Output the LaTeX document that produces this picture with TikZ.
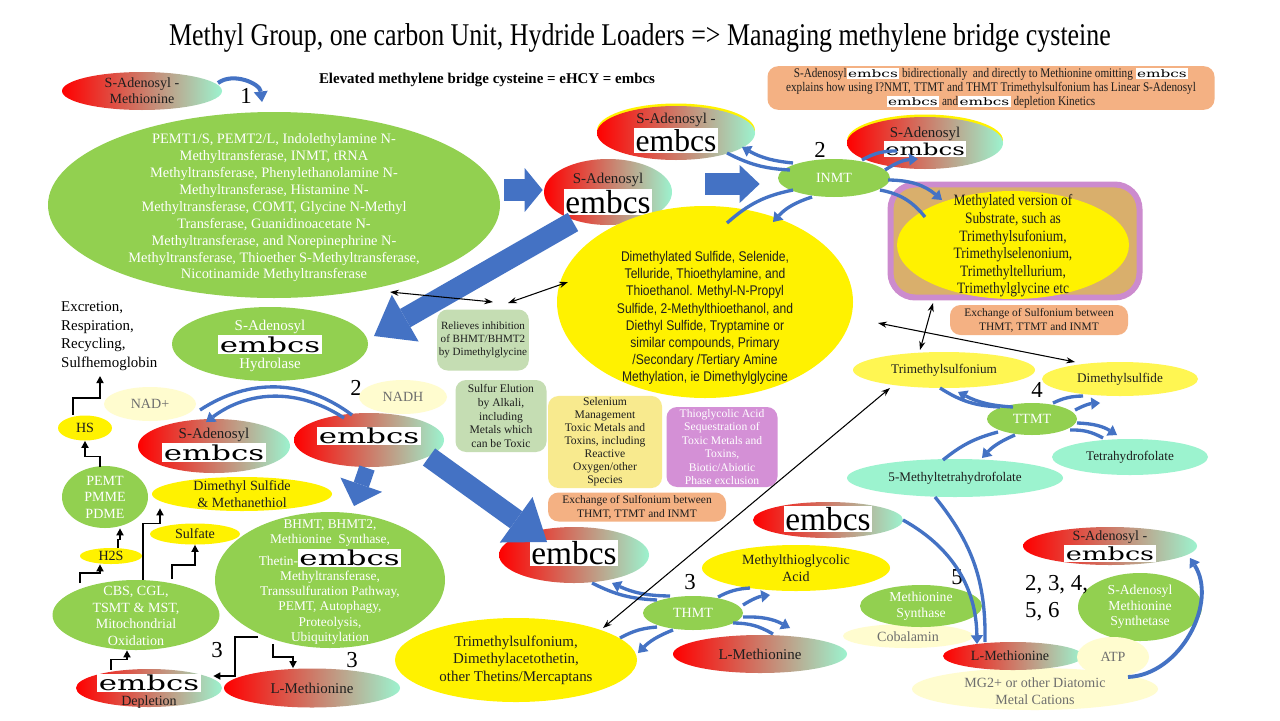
\documentclass[tikz,border=0pt]{standalone}
\usepackage{fontspec}
\setmainfont{Liberation Serif}
\newfontfamily\condf[FakeStretch=0.85]{Liberation Serif}
\newfontfamily\titlef[FakeStretch=0.82]{Liberation Serif}
\newfontfamily\narrowf[FakeStretch=0.86]{Liberation Sans}
\newfontfamily\widef[FakeStretch=1.5]{DejaVu Serif}
\usetikzlibrary{arrows.meta,positioning,calc,shapes.geometric}
\definecolor{cGrn}{HTML}{92D050}
\definecolor{cMint}{HTML}{9CF3CF}
\definecolor{cPale}{HTML}{FFFCCF}
\definecolor{cBlu}{HTML}{4472C4}
\definecolor{cOrg}{HTML}{F4B183}
\definecolor{cSage}{HTML}{C5DDB3}
\definecolor{cLemon}{HTML}{F8EA8E}
\definecolor{cOrchid}{HTML}{D490D6}
\definecolor{cTan}{HTML}{D9AF6C}
\definecolor{cLilac}{HTML}{CC8BCE}
\definecolor{cInk}{HTML}{1E1E1E}
\definecolor{cMute}{HTML}{6E6E6E}
\newcommand\fsz[2]{\fontsize{#1}{#2}\selectfont}
\newcommand\embT[1]{{\setlength{\fboxsep}{0.8pt}\colorbox{white}{\normalfont\fsz{#1}{#1}\color{black}embcs}}}
\newcommand\embW[1]{{\setlength{\fboxsep}{0.8pt}\colorbox{white}{\widef\fsz{#1}{#1}\color{black}embcs}}}
\tikzset{sz/.style 2 args={minimum width=#1*0.02cm,minimum height=#2*0.02cm},
 ell/.style={ellipse,inner sep=0pt,draw=none},
 grad/.style={ell,left color=red,right color=cMint},
 gcell/.style={ell,fill=cGrn},ycell/.style={ell,fill=yellow},
 mcell/.style={ell,fill=cMint},pcell/.style={ell,fill=cPale},
 wtx/.style={align=center,text=white,inner sep=0pt},
 btx/.style={align=center,text=cInk,inner sep=0pt},
 mtx/.style={align=center,text=cMute,inner sep=0pt},
 card/.style={rectangle,rounded corners=6pt,inner sep=1pt,align=center,text=cInk},
 num/.style={inner sep=0pt,text=black,font=\fsz{13}{15}},
 block/.style n args={3}{draw=cBlu,line width=#1,-{Triangle[length=#2,width=#3,line width=0pt]}},
 rxn/.style={draw=cBlu,line width=1.9pt},
 rxa/.style={rxn,-{Triangle[length=5pt,width=7pt,line width=0pt]}},
 dbl/.style={{Stealth[length=5pt,width=3.5pt]}-{Stealth[length=5pt,width=3.5pt]},line width=0.6pt},
 elb/.style={-{Triangle[length=4pt,width=4pt]},line width=0.9pt}}

\begin{document}
\begin{tikzpicture}[x=0.02cm,y=-0.02cm,font=\fsz{8}{9.5},text=cInk]
\path[use as bounding box,fill=white] (0,0) rectangle (1280,720);
% heading
\node[text=black,font=\titlef\fsz{18}{21}] (title) at (640,38) {Methyl Group, one carbon Unit, Hydride Loaders => Managing methylene bridge cysteine};
\node[text=black,font=\bfseries\fsz{8.5}{10}] (eq) at (487,80) {Elevated methylene bridge cysteine = eHCY = embcs};

% step 1
\node[grad,sz={160}{38}] (sam) at (142,91) {};
\node[btx,font=\fsz{8}{9}] (sam-t) at (sam) {S-Adenosyl -\\Methionine};
\node[num] (n1) at (246,96) {1};
\node[gcell,sz={452}{186}] (pemt) at (274,205) {};
\node[wtx,font=\fsz{8.2}{9.6}] (pemt-t) at (274,208) {PEMT1/S, PEMT2/L, Indolethylamine N-\\Methyltransferase, INMT, tRNA\\Methyltransferase, Phenylethanolamine N-\\Methyltransferase, Histamine N-\\Methyltransferase, COMT, Glycine N-Methyl\\Transferase, Guanidinoacetate N-\\Methyltransferase, and Norepinephrine N-\\Methyltransferase, Thioether S-Methyltransferase,\\Nicotinamide Methyltransferase};

% INMT
\node[grad,sz={128}{66}] (sa1) at (608,192) {};
\node[btx,font=\fsz{8.5}{10}] (sa1-t) at (608,194) {S-Adenosyl\\\embT{19}};
\fill[yellow] (676,130.5) ellipse [x radius=1.58cm,y radius=0.54cm];
\node[grad,sz={158}{54}] (sa2) at (676,133) {};
\node[btx,font=\fsz{8.5}{10}] (sa2-t) at (676,133) {S-Adenosyl -\\\embT{18}};
\fill[yellow] (925,140.5) ellipse [x radius=1.56cm,y radius=0.52cm];
\node[grad,sz={156}{52}] (sa3) at (925,143) {};
\node[btx,font=\fsz{8.5}{10}] (sa3-t) at (925,142) {S-Adenosyl\\\embW{9.3}};
\node[num] (n2a) at (820,150) {2};
\node[gcell,sz={112}{38}] (inmt) at (834,178) {};
\node[wtx] (inmt-t) at (inmt) {INMT};
\node[card,fill=cOrg,sz={447}{41},font=\condf\fsz{7.5}{8}] (omit) at (991,88) {S-Adenosyl\embW{5.8} bidirectionally\ \ and directly to Methionine omitting \embW{5.8}\\explains how using I?NMT, TTMT and THMT Trimethylsulfonium has Linear S-Adenosyl\\\embW{5.8} and\embW{5.8} depletion Kinetics};
\node[rectangle,rounded corners=14pt,draw=cLilac,line width=3.4pt,fill=cTan,sz={249}{113}] (mbox) at (1015,241) {};
\node[ycell,sz={232}{108}] (meth) at (1013,245) {};
\node[btx,font=\condf\fsz{9}{10}] (meth-t) at (1013,246) {Methylated version of\\Substrate, such as\\Trimethylsufonium,\\Trimethylselenonium,\\Trimethyltellurium,\\Trimethylglycine etc};
\node[card,fill=cOrg,sz={178}{30},font=\fsz{6.5}{7.8}] (xch1) at (1039,320) {Exchange of Sulfonium between\\THMT, TTMT and INMT};
\node[ycell,sz={296}{192}] (dms) at (705,302) {};
\node[btx,font=\narrowf\fsz{8}{9.8}] (dms-t) at (705,318) {Dimethylated Sulfide, Selenide,\\Telluride, Thioethylamine, and\\Thioethanol. Methyl-N-Propyl\\Sulfide, 2-Methylthioethanol, and\\Diethyl Sulfide, Tryptamine or\\similar compounds, Primary\\/Secondary /Tertiary Amine\\Methylation, ie Dimethylglycine};

% middle notes
\node[card,fill=cSage,sz={84}{61},font=\fsz{6.3}{7.4}] (rlv) at (483,340) {Relieves inhibition\\of BHMT/BHMT2\\by Dimethylglycine};
\node[card,fill=cSage,sz={91}{72},font=\fsz{6.6}{7.7}] (elu) at (501,416) {Sulfur Elution\\by Alkali,\\including\\Metals which\\can be Toxic};
\node[card,fill=cLemon,sz={114}{89},font=\fsz{6.6}{7.4}] (sel) at (605,442) {Selenium\\Management\\Toxic Metals and\\Toxins, including\\Reactive\\Oxygen/other\\Species};
\node[card,fill=cOrchid,text=white,sz={111}{80},font=\fsz{6.6}{7.6}] (tga) at (722,447) {Thioglycolic Acid\\Sequestration of\\Toxic Metals and\\Toxins,\\Biotic/Abiotic\\Phase exclusion};
\node[card,fill=cOrg,sz={178}{29},font=\fsz{6.5}{7.8}] (xch2) at (637,507) {Exchange of Sulfonium between\\THMT, TTMT and INMT};

% hydrolase side
\node[text=black,align=left,anchor=west,font=\fsz{8.5}{10.5}] (excr) at (55,336) {Excretion,\\Respiration,\\Recycling,\\Sulfhemoglobin};
\node[gcell,sz={196}{74}] (hyd) at (270,344) {};
\node[wtx,font=\fsz{8.5}{9.5}] (hyd-t) at (270,346) {S-Adenosyl\\\embW{11.7}\\Hydrolase};
\node[num] (n2b) at (356,388) {2};
\node[pcell,sz={92}{34}] (nad) at (150,404) {};
\node[mtx] (nad-t) at (nad) {NAD+};
\node[pcell,sz={88}{34}] (nadh) at (403,397) {};
\node[mtx] (nadh-t) at (nadh) {NADH};
\node[ycell,sz={54}{25}] (hs) at (85,428) {};
\node[btx] (hs-t) at (hs) {HS};
\node[grad,sz={152}{54}] (sa4) at (214,446) {};
\node[btx,font=\fsz{8.5}{9.5}] (sa4-t) at (214,445) {S-Adenosyl\\\embW{11.7}};
\node[grad,sz={150}{54}] (emb2) at (369,440) {};
\node[btx] (emb2-t) at (369,436) {\embW{11.7}};
\node[gcell,sz={86}{62}] (pme) at (105,497) {};
\node[wtx,font=\fsz{8}{9.4}] (pme-t) at (pme) {PEMT\\PMME\\PDME};
\node[ycell,sz={180}{34}] (dmsm) at (242,494) {};
\node[btx] (dmsm-t) at (dmsm) {Dimethyl Sulfide\\\& Methanethiol};
\node[ycell,sz={90}{21}] (sulf) at (195,534) {};
\node[btx] (sulf-t) at (sulf) {Sulfate};
\node[ycell,sz={62}{16}] (h2s) at (111,556) {};
\node[btx] (h2s-t) at (h2s) {H2S};
\node[gcell,sz={167}{70}] (cbs) at (136,615) {};
\node[wtx,font=\fsz{8}{9.4}] (cbs-t) at (136,616) {CBS, CGL,\\TSMT \& MST,\\Mitochondrial\\Oxidation};
\node[gcell,sz={230}{136}] (bhmt) at (330,580) {};
\node[wtx,font=\fsz{7.6}{8.6}] (bhmt-t) at (330,582) {BHMT, BHMT2,\\Methionine\ \ Synthase,\\Thetin-\embW{11.7}\\Methyltransferase,\\Transsulfuration Pathway,\\PEMT, Autophagy,\\Proteolysis,\\Ubiquitylation};
\node[grad,sz={146}{38}] (depl) at (149,688) {};
\node[btx] (depl-t) at (149,691) {\embW{11.7}\\[-1pt]Depletion};
\node[grad,sz={176}{39}] (lmet1) at (312,688) {};
\node[btx,font=\fsz{8.5}{10}] (lmet1-t) at (lmet1) {L-Methionine};
\node[num] (n3a) at (217,650) {3};
\node[num] (n3b) at (352,660) {3};

% THMT
\node[grad,sz={150}{56}] (emb3) at (574,555) {};
\node[btx] (emb3-t) at (574,553) {\embT{19}};
\node[ycell,sz={188}{46}] (mtga) at (796,568) {};
\node[btx,font=\fsz{8}{9.5}] (mtga-t) at (mtga) {Methylthioglycolic\\Acid};
\node[num] (n3c) at (690,582) {3};
\node[gcell,sz={100}{34}] (thmt) at (693,613) {};
\node[wtx] (thmt-t) at (thmt) {THMT};
\node[grad,sz={174}{38}] (lmet2) at (760,654) {};
\node[btx,font=\fsz{8.5}{10}] (lmet2-t) at (lmet2) {L-Methionine};
\node[ycell,sz={242}{84}] (tms2) at (516,660) {};
\node[btx,font=\fsz{8.5}{10}] (tms2-t) at (tms2) {Trimethylsulfonium,\\Dimethylacetothetin,\\other Thetins/Mercaptans};

% TTMT
\node[ycell,fill=yellow!68,sz={182}{36}] (tms1) at (944,370) {};
\node[btx,font=\fsz{7.5}{9}] (tms1-t) at (tms1) {Trimethylsulfonium};
\node[ycell,fill=yellow!68,sz={156}{34}] (dmsf) at (1120,379) {};
\node[btx,font=\fsz{7.5}{9}] (dmsf-t) at (dmsf) {Dimethylsulfide};
\node[num] (n4) at (1037,390) {4};
\node[gcell,sz={90}{32}] (ttmt) at (1032,419) {};
\node[wtx] (ttmt-t) at (ttmt) {TTMT};
\node[mcell,sz={156}{36}] (thf) at (1130,457) {};
\node[btx,font=\fsz{7.5}{9}] (thf-t) at (thf) {Tetrahydrofolate};
\node[mcell,sz={216}{38}] (mthf) at (955,478) {};
\node[btx,font=\fsz{7.5}{9}] (mthf-t) at (mthf) {5-Methyltetrahydrofolate};

% methionine synthase and SAM synthetase
\node[grad,sz={150}{36}] (emb4) at (828,520) {};
\node[btx] (emb4-t) at (828,519) {\embT{19}};
\node[pcell,sz={130}{24}] (cob) at (908,636) {};
\node[mtx,font=\fsz{8}{9}] (cob-t) at (908,637) {Cobalamin};
\node[gcell,sz={122}{42}] (mets) at (921,606) {};
\node[wtx,font=\fsz{7.8}{9}] (mets-t) at (mets) {Methionine\\Synthase};
\node[num] (n5) at (957,577) {5};
\node[pcell,sz={246}{42}] (mg) at (1035,689) {};
\node[mtx,font=\fsz{8}{9.6}] (mg-t) at (1035,691) {MG2+ or other Diatomic\\Metal Cations};
\node[grad,sz={140}{28}] (lmet3) at (1013,656) {};
\node[btx,font=\fsz{8}{9}] (lmet3-t) at (1010,656) {L-Methionine};
\node[grad,sz={174}{38}] (sa5) at (1110,546) {};
\node[btx,font=\fsz{8}{9}] (sa5-t) at (1110,546) {S-Adenosyl -\\\embW{10.3}};
\node[gcell,sz={124}{68}] (sams) at (1140,607) {};
\node[wtx,font=\fsz{7.8}{8.8}] (sams-t) at (sams) {S-Adenosyl\\Methionine\\Synthetase};
\node[pcell,sz={72}{40}] (atp) at (1113,657) {};
\node[mtx,font=\fsz{8}{9}] (atp-t) at (atp) {ATP};
\node[text=black,align=left,anchor=west,font=\fsz{13}{15.4}] (steps) at (1019,598) {2, 3, 4,\\5, 6};

% block arrows
\draw[block={0.44cm}{0.36cm}{0.88cm}] ($(pemt.east)+(4,-15)$) -- ($(sa1.west)+(-1,-2)$);
\draw[block={0.44cm}{0.4cm}{0.76cm}] ($(sa1.east)+(33,-8)$) -- ($(inmt.west)+(-18,6)$);
\draw[block={0.42cm}{0.72cm}{1.08cm}] ($(sa1)+(-35,30)$) -- ($(hyd)+(104,-8)$);
\draw[block={0.32cm}{0.45cm}{0.88cm}] ($(emb2)+(-2,28)$) -- ($(bhmt)+(24,-74)$);
\draw[block={0.42cm}{0.76cm}{1.12cm}] ($(emb2)+(60,17)$) -- ($(emb3)+(-27,-13)$);

% reaction arcs
\draw[rxn,line width=2.3pt,-{Triangle[length=6pt,width=8pt,line width=0pt]}] ($(sam)+(76,-8)$) to[bend left=60] ($(pemt)+(-12,-103)$);
\draw[rxn] ($(inmt)+(-44,-8)$) to[bend left=12] ($(sa2)+(51,20)$);
\draw[rxa] ($(inmt)+(-41,-15)$) to[bend left=12] ($(sa2)+(66,14)$);
\draw[rxn] ($(inmt)+(28,-18)$) to[bend left=15] ($(sa3)+(-28,8)$);
\draw[rxa] ($(inmt)+(51,-8)$) to[bend left=15] ($(sa3)+(-7,16)$);
\draw[rxa] ($(inmt)+(54,2)$) to[bend left=20] ($(meth)+(-71,-45)$);
\draw[rxn] ($(inmt)+(46,12)$) to[bend left=20] ($(meth)+(-88,-28)$);
\draw[rxn] ($(inmt)+(-41,12)$) to[bend right=15] ($(dms)+(22,-79)$);
\draw[rxa] ($(inmt)+(-22,19)$) to[bend right=15] ($(dms)+(68,-80)$);
\draw[rxn] ($(emb3)+(18,28)$) to[bend right=12] ($(thmt)+(-36,-13)$);
\draw[rxa] ($(thmt)+(-23,-17)$) to[bend left=12] ($(emb3)+(38,28)$);
\draw[rxn] ($(thmt)+(25,-16)$) to[bend left=12] ($(mtga)+(-46,20)$);
\draw[rxa] ($(thmt)+(50,-8)$) to[bend left=12] ($(mtga)+(-26,27)$);
\draw[rxa] ($(thmt)+(50,4)$) to[bend left=15] ($(lmet2)+(30,-26)$);
\draw[rxn] ($(thmt)+(40,10)$) to[bend left=15] ($(lmet2)+(13,-20)$);
\draw[rxn] ($(thmt)+(-36,14)$) to[bend right=12] ($(tms2)+(104,-22)$);
\draw[rxa] ($(thmt)+(-20,17)$) to[bend right=12] ($(tms2)+(122,-7)$);
\draw[rxn] ($(tms1)+(-4,18)$) to[bend right=15] ($(ttmt)+(-32,-12)$);
\draw[rxa] ($(ttmt)+(-19,-12)$) to[bend left=12] ($(tms1)+(14,22)$);
\draw[rxn] ($(ttmt)+(21,-16)$) to[bend left=12] ($(dmsf)+(-37,17)$);
\draw[rxa] ($(ttmt)+(43,-9)$) to[bend left=12] ($(dmsf)+(-20,24)$);
\draw[rxa] ($(ttmt)+(45,4)$) to[bend left=15] ($(thf)+(-13,-22)$);
\draw[rxn] ($(ttmt)+(38,11)$) to[bend left=15] ($(thf)+(-27,-19)$);
\draw[rxn] ($(ttmt)+(-34,13)$) to[bend right=12] ($(mthf)+(-12,-18)$);
\draw[rxa] ($(ttmt)+(-17,16)$) to[bend right=12] ($(mthf)+(27,-20)$);
\draw[rxn] ($(emb2)+(-17,-25)$) to[bend right=35] ($(sa4)+(-14,-36)$);
\draw[rxa] ($(emb2)+(-25,-22)$) to[bend right=35] ($(sa4)+(-8,-24)$);
\draw[rxn] ($(mthf)+(-20,19)$) to[bend left=20] ($(lmet3)+(-28,-14)$);
\draw[rxa] ($(emb4)+(75,0)$) to[bend left=30] ($(lmet3)+(-36,-12)$);
\draw[rxa,line width=2.2pt] ($(mg)+(93,-12)$) to[bend right=60] ($(sa5)+(80,12)$);

% elbow connectors
\draw[elb] ($(hs)+(-12,-13)$) -- ++(0,-17) -- ++(27,0) -- ++(0,-22);
\draw[elb] ($(pme.north)+(-5,1)$) -- ++(0,-10) -| (hs.south);
\draw[elb] ($(cbs)+(-56,-32)$) -- ++(0,-10) -| ($(h2s.south)+(-11,0)$);
\draw[elb] ($(h2s.north)+(7,0)$) -- ++(0,-8) -| ($(pme.south)+(15,0)$);
\draw[elb] ($(cbs.north)+(7,0)$) -- ++(0,-56) -| ($(dmsm.south)+(-82,-3)$);
\draw[elb] ($(cbs)+(36,-36)$) -- ++(0,-14) -| (sulf.south);
\draw[elb] ($(depl.north)+(-38,1)$) -- ++(0,-10) -| ($(cbs.south)+(-9,0)$);
\draw[elb] ($(bhmt)+(-72,57)$) -- ++(-23,0) |- ($(depl.east)+(-9,-12)$);
\draw[elb] ($(bhmt)+(-57,64)$) -- ++(0,13) -| ($(lmet1.north)+(-19,0)$);

% exchange links
\draw[dbl] ($(pemt)+(116,87)$) -- ($(rlv)+(10,-38)$);
\draw[dbl] ($(rlv)+(25,-37)$) -- ($(dms)+(-137,-20)$);
\draw[dbl] ($(mbox)+(-82,62)$) -- ($(tms1)+(-24,-20)$);
\draw[dbl] ($(dms)+(173,21)$) -- ($(dmsf)+(-45,-17)$);
\draw[dbl] ($(tms1)+(-54,18)$) -- ($(tms2)+(87,-32)$);
\end{tikzpicture}
\end{document}
